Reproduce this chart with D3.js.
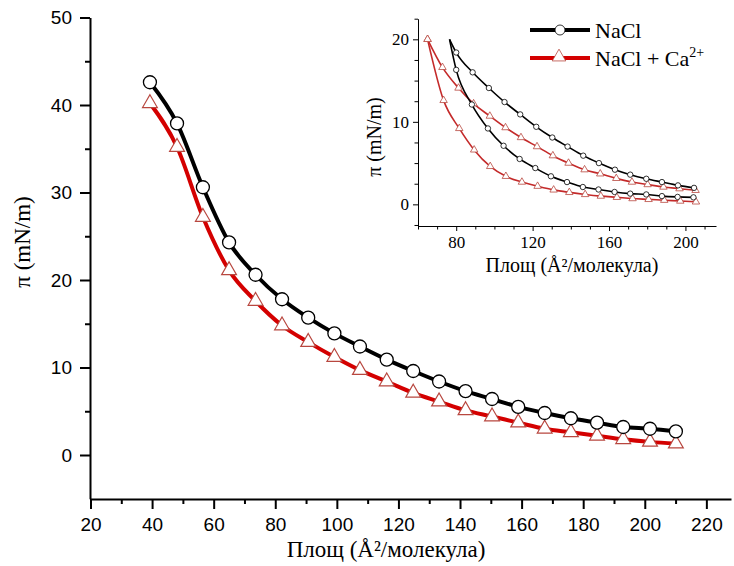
<!DOCTYPE html>
<html><head><meta charset="utf-8">
<script src="https://cdn.jsdelivr.net/npm/d3@7/dist/d3.min.js"></script>
<style>body{margin:0;background:#fff}</style>
</head><body>
<svg id="c" width="734" height="566"></svg>
<script>
// ---------- main chart data ----------
const mainArea = [39.3, 48.1, 56.5, 65.0, 73.6, 82.2, 90.7, 99.2, 107.5, 116.2, 124.8, 133.2, 141.8, 150.4, 158.9, 167.5, 176.0, 184.5, 193.0, 201.7, 210.1];
const mainNaCl = [42.6, 37.9, 30.6, 24.3, 20.6, 17.8, 15.7, 13.9, 12.4, 10.9, 9.6, 8.4, 7.3, 6.4, 5.5, 4.8, 4.2, 3.7, 3.2, 3.0, 2.7];
const mainNaClCa = [40.2, 35.2, 27.2, 21.1, 17.6, 14.8, 12.9, 11.2, 9.7, 8.4, 7.1, 6.1, 5.1, 4.4, 3.7, 3.0, 2.6, 2.2, 1.8, 1.5, 1.3];
const mainXTicks = [20, 40, 60, 80, 100, 120, 140, 160, 180, 200, 220];
const mainXMinor = [30, 50, 70, 90, 110, 130, 150, 170, 190, 210];
const mainYTicks = [0, 10, 20, 30, 40, 50];
const mainYMinor = [5, 15, 25, 35, 45];

// ---------- inset data ----------
const insNaClUpArea = [76.5, 80.0, 88.6, 97.1, 105.3, 113.5, 121.9, 130.3, 138.3, 146.5, 154.7, 163.1, 171.1, 179.5, 187.7, 196.1, 204.5];
const insNaClUpPi   = [20.0, 18.4, 16.0, 14.1, 12.4, 10.9, 9.4, 8.1, 7.0, 5.9, 5.0, 4.2, 3.6, 3.1, 2.7, 2.3, 2.0];
const insNaClLowArea = [76.5, 80.0, 88.2, 96.6, 104.8, 113.2, 121.4, 129.6, 138.0, 146.3, 154.5, 162.9, 171.1, 179.5, 187.7, 195.9, 204.2];
const insNaClLowPi   = [20.0, 16.3, 12.1, 9.2, 7.1, 5.5, 4.4, 3.4, 2.7, 2.1, 1.8, 1.5, 1.3, 1.2, 1.0, 0.9, 0.85];
const insCaUpArea = [65.0, 72.8, 81.2, 89.1, 97.6, 105.8, 113.9, 122.3, 130.6, 138.8, 147.2, 155.4, 163.8, 172.0, 180.2, 188.5, 196.9, 205.3];
const insCaUpPi   = [20.0, 16.6, 14.1, 12.2, 10.7, 9.3, 8.1, 7.0, 5.9, 5.0, 4.2, 3.7, 3.15, 2.7, 2.4, 2.1, 1.9, 1.7];
const insCaLowArea = [65.0, 73.4, 81.6, 89.4, 97.8, 106.0, 114.4, 122.6, 131.0, 139.2, 147.5, 155.7, 164.1, 172.3, 180.7, 188.9, 197.3, 205.5];
const insCaLowPi   = [20.0, 12.6, 9.2, 6.6, 4.6, 3.4, 2.7, 2.2, 1.75, 1.45, 1.2, 1.0, 0.85, 0.7, 0.6, 0.5, 0.4, 0.3];
const insXTicks = [80, 120, 160, 200];
const insXMinor = [60, 70, 90, 100, 110, 130, 140, 150, 170, 180, 190, 210];
const insYTicks = [0, 10, 20];
const insYMinor = [-2.5, 2.5, 5, 7.5, 12.5, 15, 17.5, 22.5];

const seriesNames = ["NaCl", "NaCl + Ca"];

const svg = d3.select("#c");
const SANS = "'Liberation Sans', Arial, sans-serif";
const SERIF = "'Liberation Serif', 'Times New Roman', serif";
const RED = "#d40000", TRI = "#b8473f";

// ---------- main scales ----------
const x = d3.scaleLinear().domain([20, 228]).range([90.5, 731]);
const y = d3.scaleLinear().domain([-5, 50]).range([498.75, 17.5]);

function styleAxis(g, w) {
  g.select(".domain").attr("stroke", "#000").attr("stroke-width", w);
  g.selectAll(".tick line").attr("stroke", "#000").attr("stroke-width", w);
}

// x axis main
const gx = svg.append("g").attr("transform", "translate(0,499)");
gx.call(d3.axisBottom(x).tickValues(mainXTicks).tickSize(10).tickSizeOuter(0).tickPadding(9).tickFormat(d3.format("d")));
gx.append("g").call(d3.axisBottom(x).tickValues(mainXMinor).tickSize(5).tickSizeOuter(0).tickFormat("")).select(".domain").remove();
styleAxis(gx, 2);
gx.selectAll("text").attr("font-family", SANS).attr("font-size", "19px").attr("fill", "#000");

// y axis main
const gy = svg.append("g").attr("transform", "translate(90,0)");
gy.call(d3.axisLeft(y).tickValues(mainYTicks).tickSize(10).tickSizeOuter(0).tickPadding(8).tickFormat(d3.format("d")));
gy.append("g").call(d3.axisLeft(y).tickValues(mainYMinor).tickSize(5).tickSizeOuter(0).tickFormat("")).select(".domain").remove();
styleAxis(gy, 2);
gy.selectAll("text").attr("font-family", SANS).attr("font-size", "19px").attr("fill", "#000");

// titles
svg.append("text").attr("x", 386).attr("y", 557).attr("text-anchor", "middle")
  .attr("font-family", SERIF).attr("font-size", "23px").text("Площ (Å²/молекула)");
svg.append("text").attr("transform", "translate(30,242) rotate(-90)").attr("text-anchor", "middle")
  .attr("font-family", SERIF).attr("font-size", "23px").text("π (mN/m)");

// lines main
const mainLine = d3.line().x(d => x(d[0])).y(d => y(d[1])).curve(d3.curveMonotoneX);
const blk = mainArea.map((a, i) => [a, mainNaCl[i]]);
const red = mainArea.map((a, i) => [a, mainNaClCa[i]]);
svg.append("path").attr("d", mainLine(red)).attr("fill", "none").attr("stroke", RED).attr("stroke-width", 4);
svg.append("path").attr("d", mainLine(blk)).attr("fill", "none").attr("stroke", "#000").attr("stroke-width", 4);
const triMain = d3.symbol().type(d3.symbolTriangle).size(95);
svg.append("g").selectAll("path").data(red).join("path")
  .attr("d", triMain).attr("transform", d => `translate(${x(d[0])},${y(d[1])})`)
  .attr("fill", "#fff").attr("stroke", TRI).attr("stroke-width", 1.2);
svg.append("g").selectAll("circle").data(blk).join("circle")
  .attr("cx", d => x(d[0])).attr("cy", d => y(d[1])).attr("r", 6.5)
  .attr("fill", "#fff").attr("stroke", "#000").attr("stroke-width", 1.3);

// ---------- inset ----------
const xi = d3.scaleLinear().domain([60, 216]).range([418, 716]);
const yi = d3.scaleLinear().domain([-2.6, 22.5]).range([225.8, 18.7]);

const gxi = svg.append("g").attr("transform", "translate(0,226)");
gxi.call(d3.axisBottom(xi).tickValues(insXTicks).tickSize(5).tickSizeOuter(0).tickPadding(5).tickFormat(d3.format("d")));
gxi.append("g").call(d3.axisBottom(xi).tickValues(insXMinor).tickSize(3.5).tickSizeOuter(0).tickFormat("")).select(".domain").remove();
styleAxis(gxi, 1);
gxi.selectAll("text").attr("font-family", SERIF).attr("font-size", "17px").attr("fill", "#000");

const gyi = svg.append("g").attr("transform", "translate(418,0)");
gyi.call(d3.axisLeft(yi).tickValues(insYTicks).tickSize(5).tickSizeOuter(0).tickPadding(4).tickFormat(d3.format("d")));
gyi.append("g").call(d3.axisLeft(yi).tickValues(insYMinor).tickSize(3.5).tickSizeOuter(0).tickFormat("")).select(".domain").remove();
styleAxis(gyi, 1);
gyi.selectAll("text").attr("font-family", SERIF).attr("font-size", "17px").attr("fill", "#000");

svg.append("text").attr("x", 572).attr("y", 272).attr("text-anchor", "middle")
  .attr("font-family", SERIF).attr("font-size", "20px").text("Площ (Å²/молекула)");
svg.append("text").attr("transform", "translate(381,137) rotate(-90)").attr("text-anchor", "middle")
  .attr("font-family", SERIF).attr("font-size", "20px").text("π (mN/m)");

const insLine = d3.line().x(d => xi(d[0])).y(d => yi(d[1])).curve(d3.curveMonotoneX);
const zip = (a, b) => a.map((v, i) => [v, b[i]]);
const caUp = zip(insCaUpArea, insCaUpPi), caLow = zip(insCaLowArea, insCaLowPi);
const naUp = zip(insNaClUpArea, insNaClUpPi), naLow = zip(insNaClLowArea, insNaClLowPi);
[caUp, caLow].forEach(s => svg.append("path").attr("d", insLine(s)).attr("fill", "none").attr("stroke", "#c42a2a").attr("stroke-width", 1.6));
[naUp, naLow].forEach(s => svg.append("path").attr("d", insLine(s)).attr("fill", "none").attr("stroke", "#000").attr("stroke-width", 1.6));
const triIns = d3.symbol().type(d3.symbolTriangle).size(24);
[caUp, caLow].forEach(s => svg.append("g").selectAll("path").data(s).join("path")
  .attr("d", triIns).attr("transform", d => `translate(${xi(d[0])},${yi(d[1])})`)
  .attr("fill", "#fff").attr("stroke", TRI).attr("stroke-width", 0.8));
[naUp, naLow].forEach(s => svg.append("g").selectAll("circle").data(s.slice(1)).join("circle")
  .attr("cx", d => xi(d[0])).attr("cy", d => yi(d[1])).attr("r", 2.7)
  .attr("fill", "#fff").attr("stroke", "#000").attr("stroke-width", 0.8));

// ---------- legend ----------
const lg = svg.append("g");
lg.append("line").attr("x1", 530).attr("x2", 590).attr("y1", 30).attr("y2", 30).attr("stroke", "#000").attr("stroke-width", 4);
lg.append("circle").attr("cx", 560).attr("cy", 30).attr("r", 5).attr("fill", "#fff").attr("stroke", "#000").attr("stroke-width", 0.8);
lg.append("text").attr("x", 595).attr("y", 37.5).attr("font-family", SERIF).attr("font-size", "22px").text(seriesNames[0]);
lg.append("line").attr("x1", 530).attr("x2", 590).attr("y1", 58).attr("y2", 58).attr("stroke", RED).attr("stroke-width", 4);
lg.append("path").attr("d", d3.symbol().type(d3.symbolTriangle).size(80)).attr("transform", "translate(559,57)")
  .attr("fill", "#fff").attr("stroke", TRI).attr("stroke-width", 0.8);
const t2 = lg.append("text").attr("x", 595).attr("y", 65.5).attr("font-family", SERIF).attr("font-size", "22px");
t2.append("tspan").text(seriesNames[1]);
t2.append("tspan").attr("font-size", "14px").attr("dy", -9).text("2+");
</script>
</body></html>
